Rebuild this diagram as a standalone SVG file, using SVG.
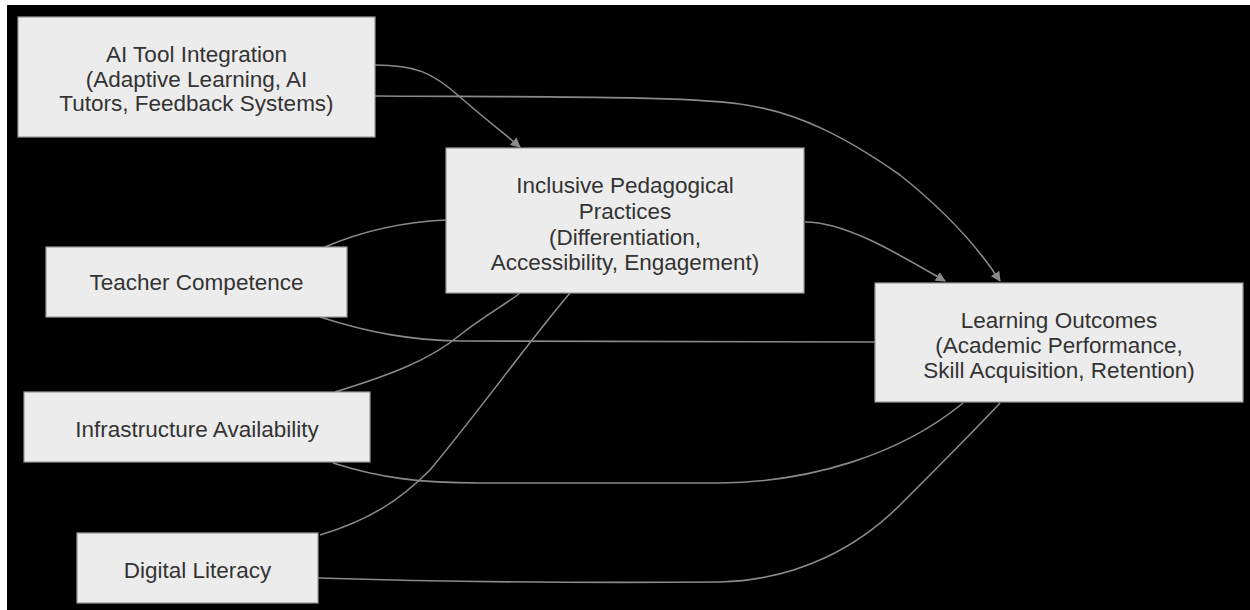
<svg xmlns="http://www.w3.org/2000/svg" width="1250" height="610" viewBox="0 0 1250 610">
<defs>
<style>
.node rect{fill:#ececec;stroke:#9a9a9a;stroke-width:1.2}
.node text{font-family:"Liberation Sans",Arial,sans-serif;font-size:22.5px;fill:#333;text-anchor:middle}
.edges path{fill:none;stroke:#8a8a8a;stroke-width:1.6}
</style>
<marker id="arr" viewBox="0 0 10 10" refX="9" refY="5" markerWidth="10" markerHeight="10" orient="auto" markerUnits="userSpaceOnUse">
<path d="M0,0 L10,5 L0,10 z" fill="#8a8a8a"/>
</marker>
</defs>
<rect x="0" y="0" width="1250" height="610" fill="#ffffff"/>
<rect x="7" y="5" width="1243" height="605" fill="#000000"/>
<g class="edges">
<path d="M375,65 C415,65 432,72 460,97 C490,123 506,135 520,147" marker-end="url(#arr)"/>
<path d="M375,96 C550,97 680,96 740,104 C800,112 850,140 900,175 C950,215 980,250 1000,281" marker-end="url(#arr)"/>
<path d="M805,222 C845,222 895,252 945,281" marker-end="url(#arr)"/>
<path d="M325,247 C360,232 400,222 446,220"/>
<path d="M320,317 C370,333 410,340 460,341 L875,342"/>
<path d="M335,392 C390,375 430,360 460,335 C485,315 505,305 520,293"/>
<path d="M333,463 C380,478 420,483 480,483 L720,483 C810,482 900,455 963,403"/>
<path d="M320,535 C370,520 400,500 430,470 C480,410 530,340 570,293"/>
<path d="M318,578 C450,582 600,583 720,582 C800,580 860,545 900,505 C940,465 975,430 1000,403"/>
</g>
<g id="ai" class="node">
<rect x="18" y="17" width="357" height="120"/>
<text x="196.5" y="62">AI Tool Integration</text>
<text x="196.5" y="87">(Adaptive Learning, AI</text>
<text x="196.5" y="111">Tutors, Feedback Systems)</text>
</g>
<g id="ipp" class="node">
<rect x="446" y="148" width="358" height="145"/>
<text x="625" y="193">Inclusive Pedagogical</text>
<text x="625" y="219">Practices</text>
<text x="625" y="245">(Differentiation,</text>
<text x="625" y="270">Accessibility, Engagement)</text>
</g>
<g id="lo" class="node">
<rect x="875" y="283" width="368" height="119"/>
<text x="1059" y="328">Learning Outcomes</text>
<text x="1059" y="353">(Academic Performance,</text>
<text x="1059" y="378">Skill Acquisition, Retention)</text>
</g>
<g id="tc" class="node">
<rect x="46" y="247" width="301" height="70"/>
<text x="196.5" y="290">Teacher Competence</text>
</g>
<g id="infra" class="node">
<rect x="24" y="392" width="346" height="70"/>
<text x="197" y="437">Infrastructure Availability</text>
</g>
<g id="dl" class="node">
<rect x="77" y="533" width="241" height="70"/>
<text x="197.5" y="578">Digital Literacy</text>
</g>
</svg>
